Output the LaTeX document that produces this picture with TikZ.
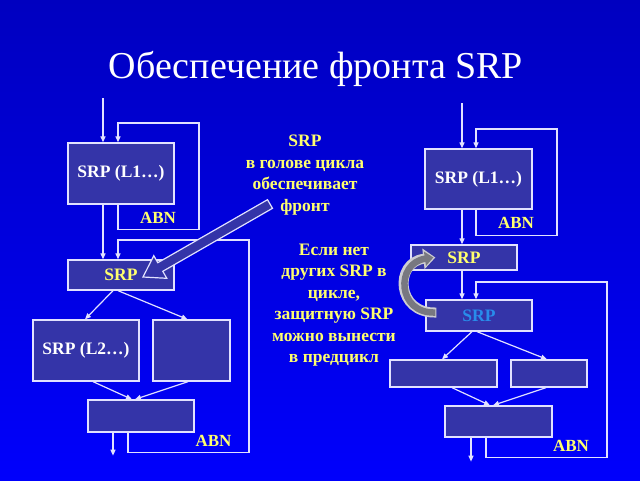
\documentclass[tikz,border=0pt]{standalone}
\usepackage{fontspec}
\setmainfont{Liberation Serif}
\usetikzlibrary{arrows.meta,calc}
\definecolor{bgtop}{RGB}{0,0,192}
\definecolor{bgbot}{RGB}{0,0,252}
\definecolor{boxfill}{RGB}{52,52,168}
\definecolor{lineclr}{RGB}{225,225,255}
\definecolor{yel}{RGB}{255,255,110}
\definecolor{ltblue}{RGB}{40,140,235}
\tikzset{
  box/.style={draw=lineclr, line width=1.3pt, fill=boxfill, inner sep=0pt,
    font=\fontsize{17.5}{20}\selectfont\bfseries, text=white},
  arr/.style={draw=lineclr, line width=1.2pt, -{Triangle[length=6pt,width=5pt]}},
  abn/.style={font=\fontsize{17}{20}\selectfont\bfseries, text=yel, inner sep=0pt},
  note/.style={font=\fontsize{17.5}{21.5}\selectfont\bfseries, text=yel, align=center, inner sep=0pt},
}
\begin{document}
\begin{tikzpicture}[x=1pt,y=-1pt]
\useasboundingbox (0,0) rectangle (640,480);
\shade[top color=bgtop, bottom color=bgbot] (0,0) rectangle (640,480);

% title
\node[text=white, font=\fontsize{38}{42}\selectfont, inner sep=0pt] (title) at (316,69) {Обеспечение фронта SRP};

% ---------- left diagram ----------
\node[box, minimum width=106pt, minimum height=61pt] (L1a) at (121,173.5) {SRP (L1…)};
\node[box, minimum width=106pt, minimum height=30pt, text=yel] (SRPa) at (121,275) {SRP};
\node[box, minimum width=106pt, minimum height=61pt] (L2a) at (86,350.5) {SRP (L2…)};
\node[box, minimum width=77pt, minimum height=61pt] (Ra) at (191.5,350.5) {};
\node[box, minimum width=106pt, minimum height=32pt] (Ba) at (141,416) {};

\coordinate (inA) at (103,98);
\draw[arr] (inA) -- (inA |- L1a.north);
\draw[arr] ([xshift=-3pt]L1a.south) -- ++(0,25) -| (199,123) -| ([xshift=-3pt]L1a.north);
\draw[arr] ([xshift=-18pt]L1a.south) -- ([xshift=-18pt]SRPa.north);
\draw[arr] ([xshift=-13pt]Ba.south) -- ++(0,20) -| (249,240) -| ([xshift=-3pt]SRPa.north);
\draw[arr] ([xshift=-8pt]SRPa.south) -- ([xshift=-1pt]L2a.north);
\draw[arr] ([xshift=-3pt]SRPa.south) -- ([xshift=-4pt]Ra.north);
\draw[arr] ([xshift=7pt]L2a.south) -- ([xshift=-9pt]Ba.north);
\draw[arr] ([xshift=-3.5pt]Ra.south) -- ([xshift=-6pt]Ba.north);
\draw[arr] ([xshift=-28pt]Ba.south) -- ++(0,23);

\node[abn] (abn1) at (158,218) {ABN};
\node[abn] (abn2) at (213.5,441) {ABN};

% hollow callout arrow
\draw[draw=lineclr, line width=1.2pt, fill=boxfill, line join=miter]
  (272.5,208.3) -- (162.8,271.3) -- (166.8,278.3) -- (143,277) -- (153.8,255.7)
  -- (157.8,262.7) -- (267.5,199.7) -- cycle;

% notes
\node[note] (note1) at (305,175) {SRP\\в голове цикла\\обеспечивает\\фронт};
\node[note] (note2) at (334,305) {Если нет\\других SRP в\\цикле,\\защитную SRP\\можно вынести\\в предцикл};

% ---------- right diagram ----------
\node[box, minimum width=107pt, minimum height=60pt] (L1b) at (478.5,179) {SRP (L1…)};
\node[box, minimum width=106pt, minimum height=25pt, text=yel] (SRPb1) at (464,257.5) {SRP};
\node[box, minimum width=106pt, minimum height=31pt, text=ltblue] (SRPb2) at (479,315.5) {SRP};
\node[box, minimum width=107pt, minimum height=27pt] (Ab) at (443.5,373.5) {};
\node[box, minimum width=76pt, minimum height=27pt] (Bb) at (549,373.5) {};
\node[box, minimum width=107pt, minimum height=31pt] (Cb) at (498.5,421.5) {};

\coordinate (inB) at (462,103);
\draw[arr] (inB) -- (inB |- L1b.north);
\draw[arr] ([xshift=-2.5pt]L1b.south) -- ++(0,26) -| (557,129) -| ([xshift=-2.5pt]L1b.north);
\draw[arr] ([xshift=-16.5pt]L1b.south) -- ([xshift=-2pt]SRPb1.north);
\draw[arr] ([xshift=-2pt]SRPb1.south) -- ([xshift=-17pt]SRPb2.north);
\draw[arr] ([xshift=-12.5pt]Cb.south) -- ++(0,19.5) -| (607,282) -| ([xshift=-3pt]SRPb2.north);
\draw[arr] ([xshift=-7pt]SRPb2.south) -- ([xshift=-1.5pt]Ab.north);
\draw[arr] ([xshift=-2pt]SRPb2.south) -- ([xshift=-2pt]Bb.north);
\draw[arr] ([xshift=8.5pt]Ab.south) -- ([xshift=-8.5pt]Cb.north);
\draw[arr] ([xshift=-3pt]Bb.south) -- ([xshift=-5.5pt]Cb.north);
\draw[arr] ([xshift=-27.5pt]Cb.south) -- ++(0,24);

\node[abn] (abn3) at (516,223) {ABN};
\node[abn] (abn4) at (571,446) {ABN};

% curved grey arrow
\coordinate (cg1) at ([yshift=3pt,xshift=11pt]SRPb2.west);
\coordinate (cg2) at ([xshift=25pt]SRPb1.west);
\draw[line width=10pt, draw={rgb,255:red,205;green,205;blue,210}, -{Triangle[length=12pt,width=20pt]}]
  (cg1) .. controls (396,314) and (394,262) .. (cg2);
\draw[line width=6.5pt, draw={rgb,255:red,120;green,120;blue,128}, -{Triangle[length=8.5pt,width=14pt]}]
  ([xshift=-1pt]cg1) .. controls (397,314) and (395,263) .. ([xshift=-2pt]cg2);
\end{tikzpicture}
\end{document}
